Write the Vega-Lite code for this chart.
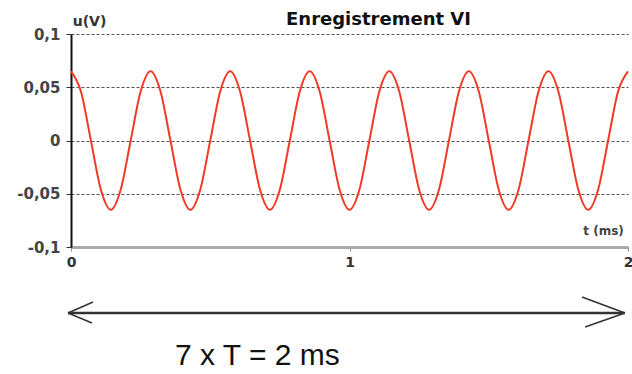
{
  "$schema": "https://vega.github.io/schema/vega-lite/v6.json",
  "autosize": "none",
  "width": 557,
  "height": 213,
  "padding": {"left": 71, "top": 34, "right": 4, "bottom": 127},
  "background": "white",
  "title": {"text": "Enregistrement VI", "anchor": "middle", "dx": 29, "offset": -15, "font": "DejaVu Sans", "fontSize": 18, "fontWeight": "bold", "color": "#111"},
  "config": {"view": {"stroke": null}},
  "datasets": {
    "wave": [
      {"t": 0, "u": 0.065}, {"t": 0.0357, "u": 0.046}, {"t": 0.0714, "u": 0}, {"t": 0.1071, "u": -0.046},
      {"t": 0.1429, "u": -0.065}, {"t": 0.1786, "u": -0.046}, {"t": 0.2143, "u": 0}, {"t": 0.25, "u": 0.046},
      {"t": 0.2857, "u": 0.065}, {"t": 0.3214, "u": 0.046}, {"t": 0.3571, "u": 0}, {"t": 0.3929, "u": -0.046},
      {"t": 0.4286, "u": -0.065}, {"t": 0.4643, "u": -0.046}, {"t": 0.5, "u": 0}, {"t": 0.5357, "u": 0.046},
      {"t": 0.5714, "u": 0.065}, {"t": 0.6071, "u": 0.046}, {"t": 0.6429, "u": 0}, {"t": 0.6786, "u": -0.046},
      {"t": 0.7143, "u": -0.065}, {"t": 0.75, "u": -0.046}, {"t": 0.7857, "u": 0}, {"t": 0.8214, "u": 0.046},
      {"t": 0.8571, "u": 0.065}, {"t": 0.8929, "u": 0.046}, {"t": 0.9286, "u": 0}, {"t": 0.9643, "u": -0.046},
      {"t": 1, "u": -0.065}, {"t": 1.0357, "u": -0.046}, {"t": 1.0714, "u": 0}, {"t": 1.1071, "u": 0.046},
      {"t": 1.1429, "u": 0.065}, {"t": 1.1786, "u": 0.046}, {"t": 1.2143, "u": 0}, {"t": 1.25, "u": -0.046},
      {"t": 1.2857, "u": -0.065}, {"t": 1.3214, "u": -0.046}, {"t": 1.3571, "u": 0}, {"t": 1.3929, "u": 0.046},
      {"t": 1.4286, "u": 0.065}, {"t": 1.4643, "u": 0.046}, {"t": 1.5, "u": 0}, {"t": 1.5357, "u": -0.046},
      {"t": 1.5714, "u": -0.065}, {"t": 1.6071, "u": -0.046}, {"t": 1.6429, "u": 0}, {"t": 1.6786, "u": 0.046},
      {"t": 1.7143, "u": 0.065}, {"t": 1.75, "u": 0.046}, {"t": 1.7857, "u": 0}, {"t": 1.8214, "u": -0.046},
      {"t": 1.8571, "u": -0.065}, {"t": 1.8929, "u": -0.046}, {"t": 1.9286, "u": 0}, {"t": 1.9643, "u": 0.046},
      {"t": 2, "u": 0.065}
    ],
    "arrow": [
      {"t": -0.0108, "u": -0.162, "t2": 1.989, "u2": -0.162, "w": "shaft"},
      {"t": -0.0108, "u": -0.162, "t2": 0.079, "u2": -0.1516, "w": "head"},
      {"t": -0.0108, "u": -0.162, "t2": 0.0754, "u2": -0.1714, "w": "head"},
      {"t": 1.989, "u": -0.162, "t2": 1.835, "u2": -0.147, "w": "head"},
      {"t": 1.989, "u": -0.162, "t2": 1.846, "u2": -0.1751, "w": "head"}
    ],
    "note": [
      {"t": 0.3734, "u": -0.2108, "label": "7 x T = 2 ms"}
    ]
  },
  "layer": [
    {
      "data": {"name": "wave"},
      "mark": {"type": "line", "interpolate": "monotone", "color": "#f03a26", "strokeWidth": 2},
      "encoding": {
        "x": {
          "field": "t", "type": "quantitative",
          "scale": {"domain": [0, 2], "nice": false, "zero": false},
          "axis": {
            "values": [0, 1, 2], "labelExpr": "'' + datum.value", "grid": false, "title": "t (ms)", "labelOverlap": false,
            "titleX": 532, "titleY": -13, "titleAlign": "center", "titleBaseline": "alphabetic",
            "titleFont": "DejaVu Sans", "titleFontSize": 12, "titleFontWeight": "bold", "titleColor": "#444",
            "domainColor": "#aaaaaa", "domainWidth": 3, "tickColor": "#888", "tickSize": 4,
            "labelFont": "DejaVu Sans", "labelFontSize": 14, "labelFontWeight": "bold", "labelColor": "#333", "labelPadding": 4, "labelFlush": false
          }
        },
        "y": {
          "field": "u", "type": "quantitative",
          "scale": {"domain": [-0.1, 0.1], "nice": false, "zero": false},
          "axis": {
            "values": [-0.1, -0.05, 0, 0.05, 0.1], "title": "u(V)", "labelOverlap": false,
            "titleAngle": 0, "titleX": 18, "titleY": -9, "titleAlign": "center", "titleBaseline": "alphabetic",
            "titleFont": "DejaVu Sans", "titleFontSize": 14, "titleFontWeight": "bold", "titleColor": "#333",
            "grid": true, "gridDash": [3, 2], "gridColor": "#555", "gridWidth": 1,
            "domainColor": "#111", "domainWidth": 2, "tickColor": "#333", "tickSize": 5,
            "labelExpr": "replace('' + datum.value, '.', ',')",
            "labelFont": "DejaVu Sans", "labelFontSize": 15, "labelFontWeight": "bold", "labelColor": "#444", "labelPadding": 6
          }
        }
      }
    },
    {
      "mark": {"type": "rule", "color": "#111", "strokeWidth": 2},
      "encoding": {"y": {"datum": 0}}
    },
    {
      "data": {"name": "arrow"},
      "mark": {"type": "rule", "color": "#333", "clip": false},
      "encoding": {
        "x": {"field": "t", "type": "quantitative"},
        "y": {"field": "u", "type": "quantitative"},
        "x2": {"field": "t2"},
        "y2": {"field": "u2"},
        "strokeWidth": {"field": "w", "type": "nominal", "scale": {"domain": ["shaft", "head"], "range": [2.5, 1.5]}, "legend": null}
      }
    },
    {
      "data": {"name": "note"},
      "mark": {"type": "text", "align": "left", "baseline": "alphabetic", "font": "Liberation Sans", "fontSize": 30, "color": "#111", "clip": false},
      "encoding": {
        "x": {"field": "t", "type": "quantitative"},
        "y": {"field": "u", "type": "quantitative"},
        "text": {"field": "label"}
      }
    }
  ]
}
